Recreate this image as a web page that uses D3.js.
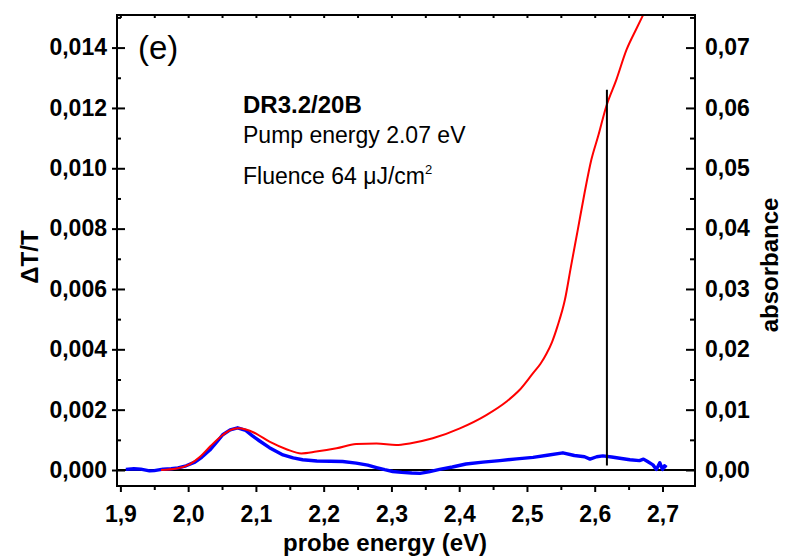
<!DOCTYPE html>
<html lang="en">
<head>
    <meta charset="UTF-8">
    <title>DR3.2/20B transient transmission</title>
    <style>
        body, html {
            margin: 0;
            padding: 0;
            background: #fff;
            font-family: Arial, "Liberation Sans", sans-serif;
        }
        .axis-title { font-weight: bold; font-size: 24px; fill: #000; }
        .note { font-size: 23px; fill: #000; }
    </style>
    <script src="https://d3js.org/d3.v7.min.js"></script>
</head>
<body>
<div id="chart"></div>
<script>
    // blue trace: dT/T vs probe energy (eV)
    const blueEnergy = [1.908, 1.92, 1.93, 1.943, 1.95, 1.963, 1.975, 1.985, 1.997, 2.01, 2.02, 2.032, 2.042, 2.051,
        2.062, 2.073, 2.085, 2.095, 2.105, 2.12, 2.14, 2.155, 2.169, 2.19, 2.21, 2.228, 2.248, 2.265, 2.278, 2.29,
        2.302, 2.315, 2.33, 2.342, 2.355, 2.371, 2.39, 2.41, 2.435, 2.46, 2.485, 2.509, 2.53, 2.553, 2.57, 2.585,
        2.593, 2.603, 2.612, 2.625, 2.637, 2.652, 2.666, 2.672, 2.678, 2.686, 2.691, 2.696, 2.7, 2.703, 2.706];
    const blueDTT = [0.00002, 0.00004, 0.00003, -0.00003, -0.00002, 0.00003, 0.00004, 0.00007, 0.00014, 0.00026,
        0.00042, 0.00066, 0.00092, 0.00117, 0.00133, 0.0014, 0.00131, 0.00113, 0.00097, 0.00074, 0.0005, 0.0004,
        0.00034, 0.0003, 0.00029, 0.00028, 0.00023, 0.00016, 0.00008, 0.00001, -0.00005, -0.00008, -0.0001,
        -0.00011, -0.00006, 0.00002, 0.0001, 0.0002, 0.00026, 0.00031, 0.00037, 0.00042, 0.00049, 0.00057,
        0.00048, 0.00044, 0.00036, 0.00044, 0.00047, 0.00043, 0.00039, 0.00034, 0.00031, 0.00036, 0.00028,
        0.00017, 0.00002, 0.00024, 0.00002, 0.00014, 0.00009];

    // red trace: absorbance vs probe energy (right axis)
    const redEnergy = [1.96, 1.983, 2.002, 2.018, 2.032, 2.051, 2.062, 2.074, 2.085, 2.096, 2.12, 2.145, 2.167,
        2.189, 2.219, 2.248, 2.278, 2.307, 2.327, 2.361, 2.401, 2.44, 2.47, 2.489, 2.509, 2.52, 2.529, 2.537, 2.545,
        2.556, 2.565, 2.575, 2.585, 2.595, 2.605, 2.617, 2.632, 2.647, 2.661, 2.671];
    const redAbs = [0, 0.00025, 0.00095, 0.00225, 0.00385, 0.0058, 0.0066, 0.0069, 0.0067, 0.00625, 0.0047,
        0.00345, 0.00275, 0.00305, 0.0036, 0.0043, 0.0044, 0.00415, 0.0044, 0.00525, 0.0069, 0.0091, 0.01135,
        0.01325, 0.01605, 0.0176, 0.0193, 0.0212, 0.0238, 0.0282, 0.03375, 0.0398, 0.0459, 0.0514, 0.0553,
        0.06025, 0.0647, 0.06965, 0.073, 0.0753];

    // pump marker line
    const markerEnergy = 2.618;
    const markerRange = [0.00015, 0.0126];

    const xTicks = [1.9, 2.0, 2.1, 2.2, 2.3, 2.4, 2.5, 2.6, 2.7];
    const leftTicks = [0, 0.002, 0.004, 0.006, 0.008, 0.010, 0.012, 0.014];
    const rightTicks = [0, 0.01, 0.02, 0.03, 0.04, 0.05, 0.06, 0.07];

    const width = 786, height = 559;
    const margin = {top: 15, right: 91, bottom: 73, left: 117};

    const svg = d3.select("#chart").append("svg")
        .attr("width", width)
        .attr("height", height);

    const x = d3.scaleLinear().domain([1.895, 2.748]).range([margin.left, width - margin.right]);
    const y = d3.scaleLinear().domain([-0.00053, 0.01508]).range([height - margin.bottom, margin.top]);
    const y2 = d3.scaleLinear().domain([-0.00265, 0.0754]).range([height - margin.bottom, margin.top]);

    const comma = d => d.toFixed(3).replace(".", ",");
    const comma2 = d => d.toFixed(2).replace(".", ",");
    const comma1 = d => d.toFixed(1).replace(".", ",");

    svg.append("clipPath").attr("id", "plot-clip")
        .append("rect")
        .attr("x", margin.left).attr("y", margin.top)
        .attr("width", width - margin.left - margin.right)
        .attr("height", height - margin.top - margin.bottom);

    const plot = svg.append("g").attr("clip-path", "url(#plot-clip)");

    // zero line
    plot.append("line")
        .attr("x1", x.range()[0]).attr("x2", x.range()[1])
        .attr("y1", y(0)).attr("y2", y(0))
        .attr("stroke", "#000").attr("stroke-width", 2);

    const blueLine = d3.line()
        .x(i => x(blueEnergy[i]))
        .y(i => y(blueDTT[i]));

    const redLine = d3.line()
        .curve(d3.curveMonotoneX)
        .x(i => x(redEnergy[i]))
        .y(i => y2(redAbs[i]));

    plot.append("path")
        .attr("d", blueLine(d3.range(blueEnergy.length)))
        .attr("fill", "none")
        .attr("stroke", "#0000ff")
        .attr("stroke-width", 3.4)
        .attr("stroke-linejoin", "round");

    plot.append("path")
        .attr("d", redLine(d3.range(redEnergy.length)))
        .attr("fill", "none")
        .attr("stroke", "#ff0000")
        .attr("stroke-width", 2)
        .attr("stroke-linejoin", "round");

    plot.append("line")
        .attr("x1", x(markerEnergy)).attr("x2", x(markerEnergy))
        .attr("y1", y(markerRange[0])).attr("y2", y(markerRange[1]))
        .attr("stroke", "#000").attr("stroke-width", 2);

    // frame
    svg.append("rect")
        .attr("x", margin.left).attr("y", margin.top)
        .attr("width", width - margin.left - margin.right)
        .attr("height", height - margin.top - margin.bottom)
        .attr("fill", "none").attr("stroke", "#000").attr("stroke-width", 2);

    // bottom axis (ticks outward)
    const bottom = svg.append("g")
        .attr("transform", `translate(0,${height - margin.bottom})`)
        .call(d3.axisBottom(x).tickValues(xTicks).tickFormat(comma1).tickSize(6).tickSizeOuter(0));
    svg.append("g")
        .attr("transform", `translate(0,${height - margin.bottom})`)
        .call(d3.axisBottom(x).tickValues(xTicks.map(d => d + 0.05).filter(d => d < 2.748)).tickFormat("").tickSize(4).tickSizeOuter(0));

    // top axis (short inward ticks)
    svg.append("g")
        .attr("transform", `translate(0,${margin.top})`)
        .call(d3.axisBottom(x).tickValues(d3.merge([xTicks, xTicks.map(d => d + 0.05)]).filter(d => d < 2.748)).tickFormat("").tickSize(3).tickSizeOuter(0));

    // left axis
    svg.append("g")
        .attr("transform", `translate(${margin.left},0)`)
        .call(d3.axisLeft(y).tickValues(leftTicks).tickFormat(comma).tickSize(5).tickPadding(5).tickSizeOuter(0));
    svg.append("g")
        .attr("transform", `translate(${margin.left},0)`)
        .call(d3.axisRight(y).tickValues(leftTicks).tickFormat("").tickSize(8).tickSizeOuter(0));
    svg.append("g")
        .attr("transform", `translate(${margin.left},0)`)
        .call(d3.axisRight(y).tickValues(leftTicks.map(d => d + 0.001)).tickFormat("").tickSize(4).tickSizeOuter(0));

    // right axis (ticks inward)
    svg.append("g")
        .attr("transform", `translate(${width - margin.right},0)`)
        .call(d3.axisLeft(y2).tickValues(rightTicks).tickFormat("").tickSize(9).tickSizeOuter(0));
    svg.append("g")
        .attr("transform", `translate(${width - margin.right},0)`)
        .call(d3.axisLeft(y2).tickValues(rightTicks.map(d => d + 0.005)).tickFormat("").tickSize(5).tickSizeOuter(0));
    svg.append("g")
        .attr("transform", `translate(${width - margin.right},0)`)
        .call(d3.axisRight(y2).tickValues(rightTicks).tickFormat(comma2).tickSize(0).tickPadding(10).tickSizeOuter(0));

    svg.selectAll(".domain").remove();
    svg.selectAll(".tick line").attr("stroke", "#000").attr("stroke-width", 2);
    svg.selectAll(".tick text")
        .attr("fill", "#000")
        .style("font-family", "Arial, 'Liberation Sans', sans-serif")
        .style("font-size", "23px")
        .style("font-weight", "bold");
    bottom.selectAll(".tick text").attr("dy", "0").attr("y", 36);

    // axis titles
    svg.append("text").attr("class", "axis-title")
        .attr("x", 385)
        .attr("y", 551)
        .attr("text-anchor", "middle")
        .text("probe energy (eV)");

    svg.append("text").attr("class", "axis-title")
        .attr("transform", `translate(38,257) rotate(-90)`)
        .attr("text-anchor", "middle")
        .text("ΔT/T");

    svg.append("text").attr("class", "axis-title")
        .attr("transform", `translate(778,265) rotate(-90)`)
        .attr("text-anchor", "middle")
        .text("absorbance");

    // annotations
    svg.append("text")
        .attr("x", 138).attr("y", 59)
        .style("font-size", "33px")
        .text("(e)");

    svg.append("text").attr("class", "note")
        .attr("x", 243).attr("y", 113)
        .style("font-weight", "bold")
        .style("font-size", "24px")
        .text("DR3.2/20B");

    svg.append("text").attr("class", "note")
        .attr("x", 243).attr("y", 143)
        .text("Pump energy 2.07 eV");

    const flu = svg.append("text").attr("class", "note")
        .attr("x", 243).attr("y", 184)
        .text("Fluence 64 μJ/cm");
    flu.append("tspan")
        .attr("dy", -10)
        .style("font-size", "13px")
        .text("2");
</script>
</body>
</html>
